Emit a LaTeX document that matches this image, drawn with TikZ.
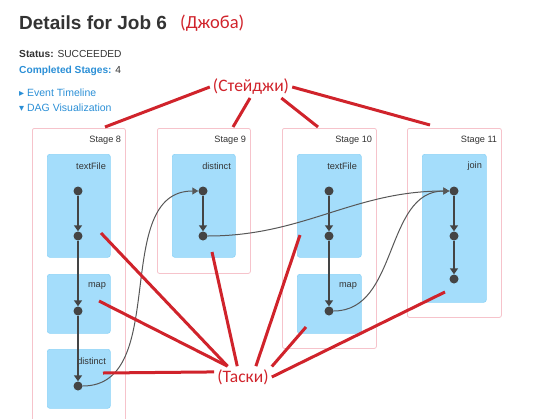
\documentclass[tikz,border=0pt]{standalone}
\usepackage{fontspec}
\setmainfont{Liberation Sans}
\newfontfamily\notefont{Carlito}
\newfontfamily\symfont{DejaVu Sans}
\usetikzlibrary{calc,arrows.meta}
\definecolor{sparkBlue}{HTML}{2B8FD6}
\definecolor{taskFill}{HTML}{A4DDFB}
\definecolor{taskLine}{HTML}{8ED3F7}
\definecolor{stagePink}{HTML}{F6C3CB}
\definecolor{dotGray}{HTML}{444444}
\definecolor{headGray}{HTML}{333333}
\definecolor{noteRed}{HTML}{D0232B}

\begin{document}
\begin{tikzpicture}[x=1pt,y=-1pt,
    stagebox/.style={draw=stagePink, line width=0.8pt, fill=white, rounded corners=2pt,
                     anchor=north west, inner sep=0pt, minimum width=93pt},
    taskbox/.style={draw=taskLine, line width=0.6pt, fill=taskFill, rounded corners=2.5pt,
                    anchor=north west, inner sep=0pt, minimum width=63pt},
    lbl/.style={anchor=east, inner sep=0pt, text=headGray, font=\fontsize{9.2}{10}\selectfont},
    dot/.style={circle, fill=dotGray, inner sep=0pt, minimum size=9pt},
    flow/.style={-{Triangle[length=6pt,width=8pt]}, dotGray, line width=1.4pt},
    xflow/.style={-{Triangle[length=6pt,width=7pt]}, dotGray!90, line width=1pt},
    notelbl/.style={inner sep=3pt, text=noteRed, font=\notefont\fontsize{17.5}{20}\selectfont},
    ann/.style={noteRed, line width=3pt}]
  \useasboundingbox (0,0) rectangle (559,418);

  % header
  \node[anchor=base west, inner sep=0pt, text=headGray, font=\fontsize{19}{22}\selectfont\bfseries]
    (ttl) at (19,29) {Details for Job 6};
  \node[notelbl, anchor=base west, inner sep=0pt, font=\notefont\fontsize{18.5}{20}\selectfont]
    (job) at (180,28) {(Джоба)};
  \node[anchor=base west, inner sep=0pt, text=headGray, font=\fontsize{10.2}{12}\selectfont]
    (st) at (19,57) {\textbf{Status:} SUCCEEDED};
  \node[anchor=base west, inner sep=0pt, text=headGray, font=\fontsize{10.2}{12}\selectfont]
    (cs) at (19,73) {\textcolor{sparkBlue}{\textbf{Completed Stages:}} 4};
  \node[anchor=base west, inner sep=0pt, text=sparkBlue, font=\fontsize{10.5}{12}\selectfont]
    (ev) at (19,96) {{\symfont\fontsize{10}{10}\selectfont ▸}\ Event Timeline};
  \node[anchor=base west, inner sep=0pt, text=sparkBlue, font=\fontsize{10.5}{12}\selectfont]
    (dag) at (19,111) {{\symfont\fontsize{10}{10}\selectfont ▾}\ DAG Visualization};

  % stages
  \node[stagebox, minimum height=300pt] (s8) at (32,128) {};
  \node[stagebox, minimum height=145pt] (s9) at (157,128) {};
  \node[stagebox, minimum height=220pt, minimum width=94pt] (s10) at (282,128) {};
  \node[stagebox, minimum height=189pt, minimum width=94pt] (s11) at (407,128) {};
  \node[lbl] (l8) at ($(s8.north east)+(-4.5,12)$) {Stage 8};
  \node[lbl] (l9) at ($(s9.north east)+(-4.5,12)$) {Stage 9};
  \node[lbl] (l10) at ($(s10.north east)+(-4.5,12)$) {Stage 10};
  \node[lbl] (l11) at ($(s11.north east)+(-4.5,12)$) {Stage 11};

  % tasks
  \node[taskbox, minimum height=103pt] (t8a) at (47,154) {};
  \node[taskbox, minimum height=59pt] (t8b) at (47,274) {};
  \node[taskbox, minimum height=59pt] (t8c) at (47,349) {};
  \node[taskbox, minimum height=103pt] (t9) at (172,154) {};
  \node[taskbox, minimum height=103pt, minimum width=64pt] (t10a) at (297,154) {};
  \node[taskbox, minimum height=59pt, minimum width=64pt] (t10b) at (297,274) {};
  \node[taskbox, minimum height=148pt, minimum width=64pt] (t11) at (422,154) {};
  \node[lbl] (n8a) at ($(t8a.north east)+(-4.5,12)$) {textFile};
  \node[lbl] (n8b) at ($(t8b.north east)+(-4.5,12)$) {map};
  \node[lbl] (n8c) at ($(t8c.north east)+(-4.5,12)$) {distinct};
  \node[lbl] (n9) at ($(t9.north east)+(-4.5,12)$) {distinct};
  \node[lbl] (n10a) at ($(t10a.north east)+(-4.5,12)$) {textFile};
  \node[lbl] (n10b) at ($(t10b.north east)+(-4.5,12)$) {map};
  \node[lbl] (n11) at ($(t11.north east)+(-4.5,12)$) {join};

  % operations
  \node[dot] (a1) at (78,191) {};
  \node[dot] (a2) at (78,236) {};
  \node[dot] (a3) at (78,311) {};
  \node[dot] (a4) at (78,386) {};
  \node[dot] (b1) at (203,191) {};
  \node[dot] (b2) at (203,236) {};
  \node[dot] (c1) at (329,191) {};
  \node[dot] (c2) at (329,236) {};
  \node[dot] (c3) at (329,311) {};
  \node[dot] (d1) at (454,191) {};
  \node[dot] (d2) at (454,236) {};
  \node[dot] (d3) at (454,279) {};

  \draw[flow] (a1) -- (a2);
  \draw[flow] (a2) -- (a3);
  \draw[flow] (a3) -- (a4);
  \draw[flow] (b1) -- (b2);
  \draw[flow] (c1) -- (c2);
  \draw[flow] (c2) -- (c3);
  \draw[flow] (d1) -- (d2);
  \draw[flow] (d2) -- (d3);
  \draw[xflow] (a4) to[out=0,in=180] (b1);
  \draw[xflow] (b2) to[out=0,in=180] (d1);
  \draw[xflow] (c3) to[out=0,in=180] (d1);

  % annotations
  \node[notelbl] (stg) at (251,87) {(Стейджи)};
  \node[notelbl] (tsk) at (243,377) {(Таски)};
  \coordinate (q8) at (105,127);
  \coordinate (q9) at (233,127);
  \coordinate (q10) at (318,127);
  \coordinate (q11) at (430,125);
  \coordinate (p8a) at (101,233);
  \coordinate (p8b) at (99,301);
  \coordinate (p8c) at (103,373);
  \coordinate (p9) at (212,252);
  \coordinate (p10a) at (300,235);
  \coordinate (p10b) at (306,327);
  \coordinate (p11) at (445,292);

  \draw[ann] (stg.west) -- (q8);
  \draw[ann] (stg.-95) -- (q9);
  \draw[ann] (stg.-20) -- (q10);
  \draw[ann] (stg.east) -- (q11);
  \draw[ann] (p8a) -- (tsk.145);
  \draw[ann] (p8b) -- (tsk.145);
  \draw[ann] (p8c) -- (tsk.170);
  \draw[ann] (p9) -- (tsk.118);
  \draw[ann] (p10a) -- (tsk.40);
  \draw[ann] (p10b) -- (tsk.20);
  \draw[ann] (p11) -- (tsk.east);
\end{tikzpicture}
\end{document}
